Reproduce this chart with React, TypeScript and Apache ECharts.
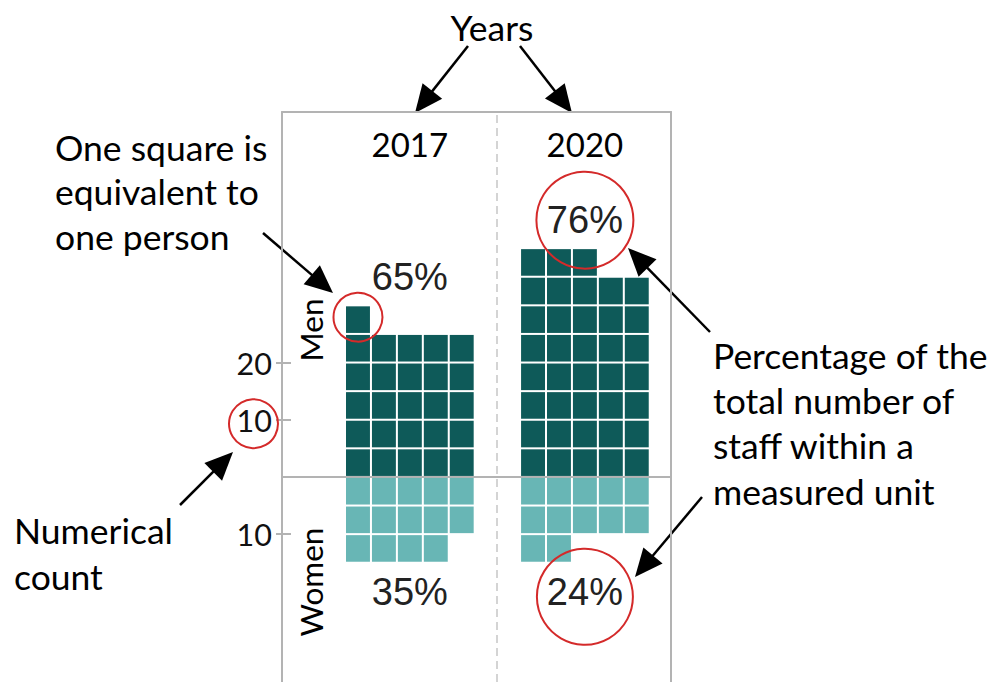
import React, { useEffect, useRef } from 'react';
import * as echarts from 'echarts';

// ---- data ----
const years = ['2017', '2020'];
const menCounts = [26, 38];
const womenCounts = [14, 12];
const countTicks = [20, 10, -10];

// ---- layout constants ----
const PER_ROW = 5;
const PANEL_X = [2.43, 9.18];
const DIVIDER_X = 8.3;
const X_MAX = 15;
const Y_MAX = 63.8;
const Y_MIN = -35.85;
const MEN_COLOR = '#0e5a59';
const WOMEN_COLOR = '#68b6b5';
const FRAME = '#b3b3b3';
const RED = '#d42a2a';
const FONT = 'Lato, "Open Sans", sans-serif';
const NUM_FONT = '"Liberation Sans", Arial, sans-serif';
const ANN = 35.5;

function arrow(x1: number, y1: number, x2: number, y2: number) {
  const dx = x2 - x1, dy = y2 - y1;
  const len = Math.hypot(dx, dy);
  const ux = dx / len, uy = dy / len;
  const nx = -uy, ny = ux;
  const L = 28, W = 12.5;
  const bx = x2 - ux * L, by = y2 - uy * L;
  return [
    { type: 'line', shape: { x1, y1, x2: bx + ux * 2, y2: by + uy * 2 }, style: { stroke: '#000', lineWidth: 2.5 } },
    { type: 'polygon', shape: { points: [[x2, y2], [bx + nx * W, by + ny * W], [bx - nx * W, by - ny * W]] }, style: { fill: '#000' } },
  ];
}

function txt(x: number, y: number, text: string, size: number, align: string, vAlign: string, extra: any = {}) {
  const { styleExtra, ...rest } = extra;
  return {
    type: 'text',
    x,
    y,
    ...rest,
    style: {
      text,
      fontSize: size,
      fontFamily: FONT,
      fill: '#000',
      textAlign: align,
      textVerticalAlign: vAlign,
      align,
      verticalAlign: vAlign,
      ...(styleExtra || {}),
    },
  };
}

export default function App() {
  const ref = useRef<HTMLDivElement>(null);

  useEffect(() => {
    if (!ref.current) return;
    const chart = echarts.init(ref.current, null, { renderer: 'svg' });

    const squares: number[][] = [];
    years.forEach((_, p) => {
      for (let i = 0; i < menCounts[p]; i++) squares.push([p, i, 1]);
      for (let i = 0; i < womenCounts[p]; i++) squares.push([p, i, -1]);
    });
    const labelData = years.map((_, p) => [p, menCounts[p], womenCounts[p]]);

    const tickAxis = (inside: boolean) => ({
      type: 'value',
      min: Y_MIN,
      max: Y_MAX,
      position: 'left',
      axisLine: { show: !inside, onZero: false, lineStyle: { color: FRAME, width: 2 } },
      splitLine: { show: false },
      axisTick: {
        show: true,
        inside,
        length: inside ? 9 : 6,
        customValues: countTicks,
        lineStyle: { color: FRAME, width: 2 },
      },
      axisLabel: inside
        ? { show: false }
        : {
            show: true,
            customValues: countTicks,
            formatter: (v: number) => String(Math.abs(v)),
            fontFamily: FONT,
            fontSize: 30.5,
            color: '#111',
            margin: 10,
          },
    });

    chart.setOption({
      animation: false,
      backgroundColor: '#fff',
      grid: {
        left: 282,
        top: 112,
        right: 325,
        bottom: 0,
        containLabel: false,
        outerBoundsMode: 'none',
        show: false,
      },
      xAxis: [
        {
          type: 'value',
          min: 0,
          max: X_MAX,
          position: 'bottom',
          axisLine: { show: true, onZero: true, lineStyle: { color: FRAME, width: 2 } },
          axisTick: { show: false },
          axisLabel: { show: false },
          splitLine: { show: false },
        },
        {
          type: 'value',
          min: 0,
          max: X_MAX,
          position: 'top',
          axisLine: { show: true, onZero: false, lineStyle: { color: FRAME, width: 2 } },
          axisTick: { show: false },
          axisLabel: { show: false },
          splitLine: { show: false },
        },
      ],
      yAxis: [
        tickAxis(false),
        tickAxis(true),
        {
          type: 'value',
          min: Y_MIN,
          max: Y_MAX,
          position: 'right',
          axisLine: { show: true, onZero: false, lineStyle: { color: FRAME, width: 2 } },
          axisTick: { show: false },
          axisLabel: { show: false },
          splitLine: { show: false },
        },
      ],
      series: [
        {
          type: 'custom',
          name: 'squares',
          data: squares,
          renderItem: (params: any, api: any) => {
            const p = api.value(0), i = api.value(1), s = api.value(2);
            const col = i % PER_ROW, row = Math.floor(i / PER_ROW);
            const a = api.coord([PANEL_X[p] + col, s * row * PER_ROW]);
            const b = api.coord([PANEL_X[p] + col + 1, s * (row + 1) * PER_ROW]);
            return {
              type: 'rect',
              shape: {
                x: Math.min(a[0], b[0]) + 1,
                y: Math.min(a[1], b[1]) + 1,
                width: Math.abs(b[0] - a[0]) - 2,
                height: Math.abs(b[1] - a[1]) - 2,
              },
              style: { fill: s > 0 ? MEN_COLOR : WOMEN_COLOR },
            };
          },
          markLine: {
            silent: true,
            symbol: ['none', 'none'],
            label: { show: false },
            lineStyle: { type: [8, 5], color: '#c6c6c6', width: 1.5 },
            data: [{ xAxis: DIVIDER_X }],
          },
          z: 1,
        },
        {
          type: 'custom',
          name: 'labels',
          data: labelData,
          renderItem: (params: any, api: any) => {
            const p = api.value(0), m = api.value(1), w = api.value(2);
            const total = m + w;
            const cx = api.coord([PANEL_X[p] + PER_ROW / 2, 0])[0];
            const topY = api.coord([0, Math.ceil(m / PER_ROW) * PER_ROW])[1];
            const botY = api.coord([0, -Math.ceil(w / PER_ROW) * PER_ROW])[1];
            const frameTop = api.coord([0, Y_MAX])[1];
            const mk = (y: number, text: string, size: number, family: string, color: string) => ({
              type: 'text',
              x: cx,
              y,
              style: {
                text,
                fontSize: size,
                fontFamily: family,
                fill: color,
                textAlign: 'center',
                textVerticalAlign: 'middle',
                align: 'center',
                verticalAlign: 'middle',
              },
            });
            return {
              type: 'group',
              children: [
                mk(frameTop + 32, years[p], 33, FONT, '#000'),
                mk(topY - 28, Math.round((m / total) * 100) + '%', 38, NUM_FONT, '#222'),
                mk(botY + 29, Math.round((w / total) * 100) + '%', 38, NUM_FONT, '#222'),
              ],
            };
          },
          z: 3,
        },
      ],
    });

    const px = (x: number, y: number) => chart.convertToPixel({ gridIndex: 0 }, [x, y]) as number[];
    const c76 = px(PANEL_X[1] + PER_ROW / 2, Math.ceil(menCounts[1] / PER_ROW) * PER_ROW);
    const c24 = px(PANEL_X[1] + PER_ROW / 2, -Math.ceil(womenCounts[1] / PER_ROW) * PER_ROW);
    const c10 = px(0, 10);
    const sq = px(PANEL_X[0] + 0.5, Math.ceil(menCounts[0] / PER_ROW) * PER_ROW - PER_ROW / 2);
    const circ = (cx: number, cy: number, r: number) => ({
      type: 'circle',
      shape: { cx, cy, r },
      style: { fill: 'none', stroke: RED, lineWidth: 2 },
      z: 10,
    });

    chart.setOption({
      graphic: {
        elements: [
          circ(c76[0], c76[1] - 28, 48.5),
          circ(c24[0], c24[1] + 34, 48),
          circ(c10[0] - 28.5, c10[1] + 4, 24.5),
          circ(sq[0], sq[1] - 2.5, 24.5),
          txt(492, 27, 'Years', ANN, 'center', 'middle'),
          txt(55, 125, 'One square is\nequivalent to\none person', ANN, 'left', 'top', { styleExtra: { lineHeight: 44.5 } }),
          txt(713, 332.5, 'Percentage of the\ntotal number of\nstaff within a\nmeasured unit', ANN, 'left', 'top', { styleExtra: { lineHeight: 45.3 } }),
          txt(14, 507.5, 'Numerical\ncount', ANN, 'left', 'top', { styleExtra: { lineHeight: 46 } }),
          txt(311, 330, 'Men', 31.5, 'center', 'middle', { rotation: Math.PI / 2 }),
          txt(311, 582, 'Women', 31.5, 'center', 'middle', { rotation: Math.PI / 2 }),
          ...arrow(468, 46, 415, 113),
          ...arrow(520, 46, 572, 113),
          ...arrow(263, 233, 333, 293),
          ...arrow(180, 505, 233, 452),
          ...arrow(710, 332, 628, 248),
          ...arrow(702, 497, 635, 577),
        ],
      },
    });

    return () => chart.dispose();
  }, []);

  return (
    <div
      ref={ref}
      style={{ position: 'fixed', left: 0, top: 0, width: 996, height: 682, background: '#fff' }}
    />
  );
}
